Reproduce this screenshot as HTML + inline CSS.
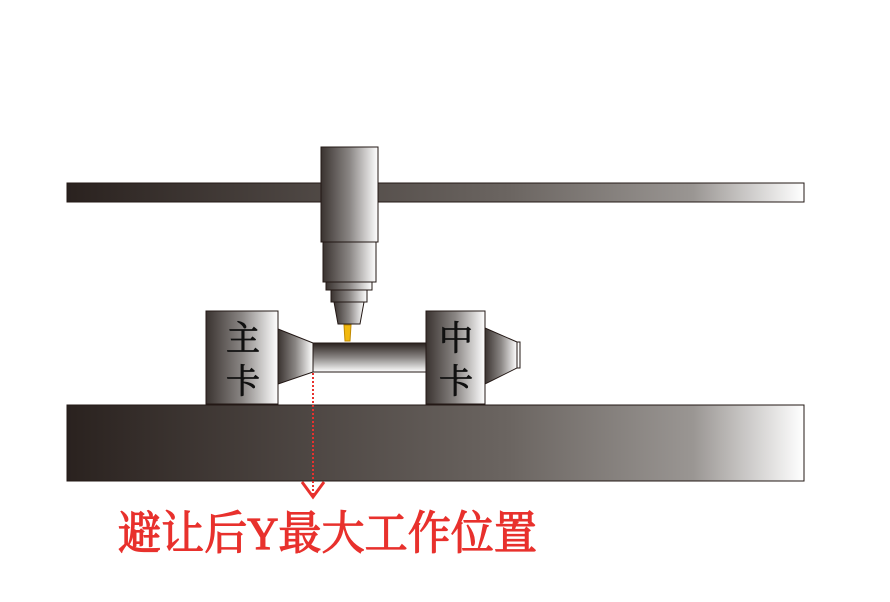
<!DOCTYPE html>
<html><head><meta charset="utf-8"><style>
body{margin:0;background:#fff;width:890px;height:597px;overflow:hidden}
.cjk{font-family:"Liberation Serif","Noto Serif CJK SC","Noto Serif CJK",serif}
</style></head><body>
<svg width="890" height="597" viewBox="0 0 890 597" xmlns="http://www.w3.org/2000/svg">
<defs>
<linearGradient id="h" x1="0" x2="1" y1="0" y2="0">
<stop offset="0" stop-color="#2a221f"/><stop offset="0.6" stop-color="#6b6561"/><stop offset="0.85" stop-color="#9a9693"/><stop offset="1" stop-color="#ffffff"/>
</linearGradient>
<linearGradient id="b" x1="0" x2="1" y1="0" y2="0">
<stop offset="0" stop-color="#3a3330"/><stop offset="0.5" stop-color="#8a8684"/><stop offset="1" stop-color="#ffffff"/>
</linearGradient>
<linearGradient id="v" x1="0" x2="0" y1="0" y2="1">
<stop offset="0" stop-color="#2a221f"/><stop offset="0.5" stop-color="#8a8684"/><stop offset="1" stop-color="#ffffff"/>
</linearGradient>
</defs>
<g stroke="#231815" stroke-width="1">
<rect x="67" y="183" width="737" height="19" fill="url(#h)"/>
<rect x="67" y="405" width="737" height="76" fill="url(#h)"/>
<rect x="321" y="147" width="57" height="95" fill="url(#b)"/>
<rect x="323" y="242" width="53" height="40" fill="url(#b)"/>
<rect x="326" y="282" width="46" height="8" fill="url(#b)"/>
<rect x="331" y="290" width="36" height="12" fill="url(#b)"/>
<polygon points="334,302 364,302 360,324 338,324" fill="url(#b)"/>
<polygon points="344,325 351,325 350,341 345,341" fill="#f2b90f" stroke="#c08a00"/>
<polygon points="278,329 313,343 313,372 278,384" fill="url(#b)"/>
<rect x="313" y="343" width="113" height="29" fill="url(#v)"/>
<polygon points="485,328 517,342 517,368 485,384" fill="url(#b)"/>
<rect x="517" y="342" width="3" height="26" fill="#fff"/>
<rect x="206" y="311" width="72" height="93" fill="url(#b)"/>
<rect x="426" y="311" width="59" height="93" fill="url(#b)"/>
</g>
<g class="cjk" font-size="34" fill="#111" stroke="#111" stroke-width="0.8" text-anchor="middle">
<text x="243" y="350">主</text><text x="243" y="393">卡</text>
<text x="456" y="350">中</text><text x="456" y="393">卡</text>
</g>
<line x1="313" y1="373" x2="313" y2="496" stroke="#e8312d" stroke-width="2" stroke-dasharray="2,2"/>
<polyline points="302,482 313,497 324,482" fill="none" stroke="#e8312d" stroke-width="3"/>
<text class="cjk" x="118" y="549" font-size="46" fill="#e8312d" stroke="#e8312d" stroke-width="1.2" textLength="419" lengthAdjust="spacingAndGlyphs">避让后Y最大工作位置</text>
</svg>
</body></html>
